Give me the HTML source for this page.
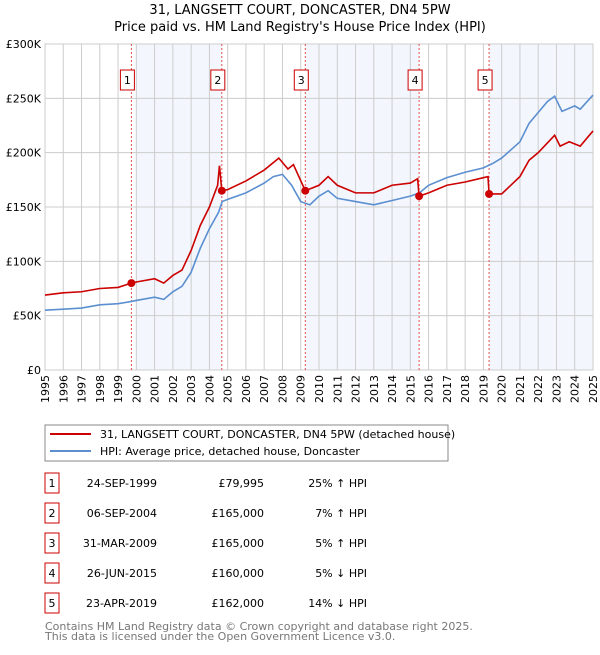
<!DOCTYPE html>
<html><head><meta charset="utf-8"><style>
body{margin:0;background:#fff;font-family:"Liberation Sans","DejaVu Sans",sans-serif;}
svg text{font-family:"DejaVu Sans","Liberation Sans",sans-serif;}
</style></head><body>
<svg id="c" width="600" height="650" xmlns="http://www.w3.org/2000/svg">
<text x="300" y="14" text-anchor="middle" font-size="13">31, LANGSETT COURT, DONCASTER, DN4 5PW</text>
<text x="300" y="31" text-anchor="middle" font-size="13">Price paid vs. HM Land Registry's House Price Index (HPI)</text>
<g id="bands"></g><g id="grid"></g><g id="axes"></g><g id="vlines"></g><g id="series"></g><g id="marks"></g>
<g>
<rect x="45" y="425" width="403" height="36" fill="#fff" stroke="#888"/>
<line x1="50" y1="434" x2="91" y2="434" stroke="#cc0000" stroke-width="2"/>
<text x="100" y="438" font-size="11">31, LANGSETT COURT, DONCASTER, DN4 5PW (detached house)</text>
<line x1="50" y1="451" x2="91" y2="451" stroke="#5b8fd0" stroke-width="2"/>
<text x="100" y="455" font-size="11">HPI: Average price, detached house, Doncaster</text>
</g>
<g id="table"></g>
<text x="45" y="630" font-size="11" fill="#777">Contains HM Land Registry data © Crown copyright and database right 2025.</text>
<text x="45" y="640" font-size="11" fill="#777">This data is licensed under the Open Government Licence v3.0.</text>
</svg>
<script>
const hpiYears=[1995,1996,1997,1998,1999,1999.7,2000,2001,2001.5,2002,2002.5,2003,2003.5,2004,2004.5,2004.7,2005,2006,2007,2007.5,2008,2008.5,2009,2009.5,2010,2010.5,2011,2012,2013,2014,2015,2015.5,2016,2017,2018,2019,2019.5,2020,2021,2021.5,2022,2022.5,2022.9,2023.3,2024,2024.3,2025];
const hpiValues=[55,56,57,60,61,63,64,67,65,72,77,90,112,130,145,155,157,163,172,178,180,170,155,152,160,165,158,155,152,156,160,163,170,177,182,186,190,195,210,227,237,247,252,238,243,240,253];
const redYears=[1995,1996,1997,1998,1999,1999.73,2000,2001,2001.5,2002,2002.5,2003,2003.5,2004,2004.45,2004.55,2004.68,2005,2006,2007,2007.8,2008.3,2008.6,2009.25,2010,2010.5,2011,2012,2013,2014,2015,2015.4,2015.48,2016,2017,2018,2019,2019.25,2019.31,2020,2021,2021.5,2022,2022.9,2023.2,2023.7,2024.3,2025];
const redValues=[69,71,72,75,76,80,81,84,80,87,92,110,133,150,170,188,165,166,174,184,195,185,189,165,170,178,170,163,163,170,172,176,160,163,170,173,177,178,162,162,178,193,200,216,206,210,206,220];
const saleLabels=["1","2","3","4","5"];
const saleYears=[1999.73,2004.68,2009.25,2015.48,2019.31];
const saleValues=[79.995,165,165,160,162];
const saleDates=["24-SEP-1999","06-SEP-2004","31-MAR-2009","26-JUN-2015","23-APR-2019"];
const salePrices=["£79,995","£165,000","£165,000","£160,000","£162,000"];
const saleHpi=["25% ↑ HPI","7% ↑ HPI","5% ↑ HPI","5% ↓ HPI","14% ↓ HPI"];
const yTicks=[0,50,100,150,200,250,300];
const yTickLabels=["£0","£50K","£100K","£150K","£200K","£250K","£300K"];
const shadeStart=[2000,2009.25,2019.31];
const shadeEnd=[2004.68,2015.48,2025];
const NS="http://www.w3.org/2000/svg";
const X0=45,X1=593,Y0=370,Y1=44;
const xs=y=>X0+(y-1995)*(X1-X0)/30;
const ys=v=>Y0-v*(Y0-Y1)/300;
function mk(p,t,a){const e=document.createElementNS(NS,t);for(const k in a)e.setAttribute(k,a[k]);document.getElementById(p).appendChild(e);return e;}
for(let i=0;i<shadeStart.length;i++){
 const r=mk('bands','rect',{x:xs(shadeStart[i]),y:Y1,width:xs(shadeEnd[i])-xs(shadeStart[i]),height:Y0-Y1,fill:'#eef3fc',opacity:0.7});
 
 
}
for(let y=1995;y<=2025;y++){
 const l=mk('grid','line',{x1:xs(y),x2:xs(y),y1:Y1,y2:Y0,stroke:'#ccc','stroke-width':1});
 
 
 const t=mk('axes','text',{transform:`translate(${xs(y)+4},${Y0+5}) rotate(-90)`,'text-anchor':'end','font-size':11});
 t.textContent=y;
 
 
}
yTicks.forEach((v,i)=>{
 const l=mk('grid','line',{x1:X0,x2:X1,y1:ys(v),y2:ys(v),stroke:'#ccc','stroke-width':1});
 
 
 const t=mk('axes','text',{x:X0-4,y:ys(v)+4,'text-anchor':'end','font-size':11});
 t.textContent=yTickLabels[i];
 
 
});
const fr=mk('axes','rect',{x:X0,y:Y1,width:X1-X0,height:Y0-Y1,fill:'none',stroke:'#ccc'});


saleYears.forEach((s,i)=>{
 const l=mk('vlines','line',{x1:xs(s),x2:xs(s),y1:Y1,y2:Y0,stroke:'#e05050','stroke-width':1,'stroke-dasharray':'2,2'});
 
 
 const r=mk('vlines','rect',{x:xs(s)-11,y:70,width:14,height:20,fill:'#fff',stroke:'#cc0000'});
 
 
 const t=mk('vlines','text',{x:xs(s)-4,y:84,'text-anchor':'middle','font-size':11});
 t.textContent=saleLabels[i];
 
 
 const c=mk('marks','circle',{cx:xs(s),cy:ys(saleValues[i]),r:4,fill:'#cc0000'});
 
 
 const ty=483+i*30;
 const b=mk('table','rect',{x:45,y:ty-10,width:14,height:20,fill:'#fff',stroke:'#cc0000'});
 
 
 const cells=[[52,'middle',saleLabels[i],'table-row-number'],[157,'end',saleDates[i],'table-date'],[264,'end',salePrices[i],'table-price'],[367,'end',saleHpi[i],'table-hpi-change']];
 cells.forEach(c2=>{
  const tt=mk('table','text',{x:c2[0],y:ty+4,'text-anchor':c2[1],'font-size':11});
  tt.textContent=c2[2];
  
  
 });
});
const hp=mk('series','polyline',{points:hpiYears.map((y,i)=>xs(y)+','+ys(hpiValues[i])).join(' '),fill:'none',stroke:'#5b8fd0','stroke-width':1.6});


const rp=mk('series','polyline',{points:redYears.map((y,i)=>xs(y)+','+ys(redValues[i])).join(' '),fill:'none',stroke:'#cc0000','stroke-width':1.6});


</script>
</body></html>
